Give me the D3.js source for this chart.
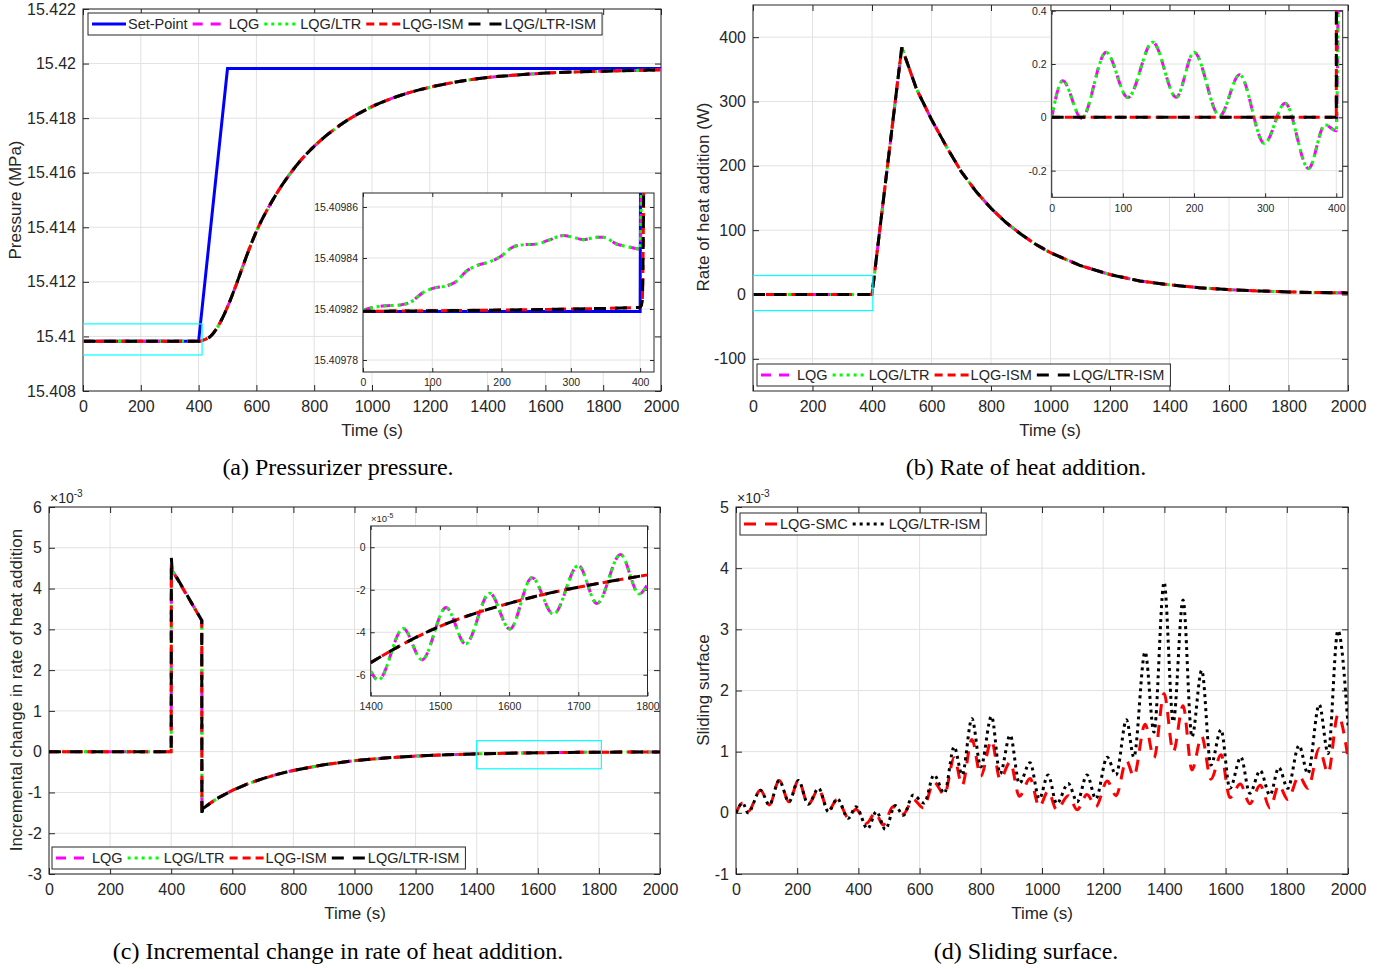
<!DOCTYPE html>
<html>
<head>
<meta charset="utf-8">
<script src="https://cdn.jsdelivr.net/npm/d3@7"></script>
<style>
  body { margin: 0; background: #fff; }
  text { font-family: "Liberation Sans", Arial, sans-serif; fill: #262626; }
  .cap { font-family: "Liberation Serif", "Times New Roman", serif; fill: #000; }
</style>
</head>
<body>
<script>
// ---------- data ----------
var timeTicks = [0, 200, 400, 600, 800, 1000, 1200, 1400, 1600, 1800, 2000];

// (a) pressurizer pressure, MPa
var pressTicks = [15.408, 15.41, 15.412, 15.414, 15.416, 15.418, 15.42, 15.422];
var pressLabels = ["15.408", "15.41", "15.412", "15.414", "15.416", "15.418", "15.42", "15.422"];
var setPointA = [[0, 15.409819], [400, 15.409819], [500, 15.419819], [2000, 15.419819]];
var responseA = [[0, 15.40982], [400, 15.409821], [420, 15.40988], [440, 15.40999], [460, 15.41025],
  [480, 15.41062], [500, 15.41108], [525, 15.41175], [550, 15.41248], [575, 15.4132], [600, 15.41385],
  [650, 15.41488], [700, 15.41572], [750, 15.41641], [800, 15.41697], [850, 15.41743], [900, 15.41782],
  [1000, 15.41842], [1100, 15.41884], [1200, 15.41913], [1300, 15.41934], [1400, 15.41949],
  [1500, 15.41958], [1600, 15.41965], [1800, 15.41972], [2000, 15.41977]];
var insetAxTicks = [0, 100, 200, 300, 400];
var insetAyTicks = [15.4098, 15.40982, 15.40984, 15.40986];
var insetAyLabels = ["15.40978", "15.40982", "15.40984", "15.40986"];
var ltrInsetA = [[0, 15.4098196], [20, 15.4098209], [35, 15.4098213], [54, 15.4098216], [68, 15.4098226],
  [87, 15.4098265], [102, 15.4098282], [121, 15.4098291], [133, 15.4098305], [150, 15.409835],
  [164, 15.409837], [184, 15.4098386], [198, 15.4098405], [217, 15.4098444], [232, 15.4098452],
  [251, 15.4098455], [268, 15.409847], [289, 15.4098488], [304, 15.4098481], [318, 15.4098472],
  [337, 15.4098481], [347, 15.4098481], [366, 15.4098455], [386, 15.4098442], [400, 15.4098435],
  [403, 15.40990]];
var ismInsetA = [[0, 15.4098191], [200, 15.4098196], [300, 15.40982], [400, 15.4098207],
  [403, 15.409823], [406, 15.40990]];
var zoomBoxA = [[0, 412], [15.40932, 15.41046]];

// (b) rate of heat addition, W
var heatTicks = [-100, 0, 100, 200, 300, 400];
var heatMain = [[0, 0], [400, 0], [500, 384], [550, 319], [600, 272], [650, 230], [700, 191], [750, 160],
  [800, 134], [850, 112], [900, 94], [950, 78], [1000, 65], [1100, 45], [1200, 31], [1300, 21],
  [1400, 15], [1500, 10.5], [1600, 7.5], [1700, 5.5], [1800, 4], [1900, 3], [2000, 2.5]];
var insetByTicks = [-0.2, 0, 0.2, 0.4];
var ltrInsetB = [[0, 0], [15.5, 0.137], [42, -0.004], [76.5, 0.244], [107, 0.074], [142, 0.282],
  [175, 0.075], [200, 0.244], [236, 0.005], [264, 0.16], [299, -0.098], [328, 0.053], [361, -0.192],
  [384, -0.028], [400, -0.05], [403, 0.6]];
var zoomBoxB = [[0, 403], [-25, 29.5]];

// (c) incremental change in rate of heat addition, x10^-3
var incTicks = [-3, -2, -1, 0, 1, 2, 3, 4, 5, 6];
var incMain = [[0, 0], [400, 0], [400.5, 4.48], [500, 3.22], [500.5, -1.4], [550, -1.15], [600, -0.95],
  [650, -0.79], [700, -0.66], [750, -0.55], [800, -0.46], [900, -0.32], [1000, -0.22], [1100, -0.155],
  [1200, -0.108], [1300, -0.076], [1400, -0.054], [1500, -0.037], [1600, -0.0265], [1700, -0.0185],
  [1800, -0.013], [1900, -0.009], [2000, -0.006]];
var incMainLtrIsm = [[0, 0], [400, 0], [400.5, 4.75], [403, 4.47], [500, 3.22], [500.5, -1.6], [503, -1.4],
  [550, -1.15], [600, -0.95], [650, -0.79], [700, -0.66], [750, -0.55], [800, -0.46], [900, -0.32],
  [1000, -0.22], [1100, -0.155], [1200, -0.108], [1300, -0.076], [1400, -0.054], [1500, -0.037],
  [1600, -0.0265], [1700, -0.0185], [1800, -0.013], [1900, -0.009], [2000, -0.006]];
// inset, x10^-5
var insetCxTicks = [1400, 1500, 1600, 1700, 1800];
var insetCyTicks = [-6, -4, -2, 0];
var ltrInsetC = [[1400, -5.83], [1411, -6.25], [1447, -3.82], [1474, -5.3], [1509, -2.84], [1537, -4.55],
  [1572, -2.16], [1601, -3.85], [1633, -1.43], [1664, -3.15], [1700, -0.86], [1727, -2.65],
  [1761, -0.34], [1788, -2.2], [1800, -1.75]];
var ismInsetC = [[1400, -5.43], [1450, -4.5], [1500, -3.72], [1550, -3.12], [1600, -2.64], [1650, -2.22],
  [1700, -1.88], [1750, -1.58], [1800, -1.3]];
var zoomBoxC = [[1400, 1808], [-0.42, 0.27]];

// (d) sliding surface, x10^-3
var slideTicks = [-1, 0, 1, 2, 3, 4, 5];
var smcD = [[0, 0], [22, 0.16], [39, 0.02], [80, 0.37], [109, 0.13], [141, 0.53], [173, 0.18], [204, 0.53],
  [236, 0.14], [270, 0.38], [302, 0.04], [331, 0.22], [367, -0.08], [392, 0.06], [427, -0.17], [455, 0.0],
  [481, -0.2], [513, 0.1], [547, -0.02], [579, 0.22], [612, 0.08], [647, 0.5], [681, 0.3], [713, 0.9],
  [739, 0.45], [771, 1.2], [800, 0.6], [835, 1.18], [863, 0.55], [896, 0.83], [926, 0.27], [961, 0.56],
  [991, 0.1], [1020, 0.35], [1048, 0.05], [1086, 0.28], [1115, 0.05], [1147, 0.3], [1176, 0.1],
  [1213, 0.52], [1242, 0.28], [1276, 0.85], [1300, 0.6], [1337, 1.45], [1366, 0.9], [1399, 1.95],
  [1429, 1.0], [1461, 1.75], [1490, 0.7], [1522, 1.25], [1552, 0.55], [1585, 0.95], [1614, 0.25],
  [1648, 0.47], [1679, 0.15], [1713, 0.45], [1745, 0.08], [1774, 0.45], [1803, 0.22], [1840, 0.6],
  [1869, 0.4], [1906, 1.05], [1935, 0.65], [1967, 1.6], [2000, 0.9]];
var ltrIsmD = [[0, 0], [22, 0.16], [39, 0.0], [80, 0.37], [109, 0.13], [141, 0.53], [173, 0.18], [204, 0.53],
  [236, 0.14], [270, 0.40], [302, 0.02], [331, 0.23], [367, -0.09], [392, 0.10], [430, -0.26], [459, 0.02],
  [488, -0.27], [520, 0.12], [547, -0.04], [579, 0.29], [615, 0.16], [647, 0.62], [681, 0.32], [713, 1.08],
  [739, 0.62], [771, 1.54], [800, 0.75], [835, 1.58], [863, 0.64], [896, 1.27], [926, 0.48], [961, 0.82],
  [991, 0.23], [1020, 0.62], [1048, 0.15], [1086, 0.48], [1115, 0.18], [1147, 0.62], [1176, 0.23],
  [1213, 0.91], [1242, 0.62], [1276, 1.52], [1300, 0.91], [1337, 2.63], [1366, 1.32], [1399, 3.77],
  [1429, 1.49], [1461, 3.48], [1490, 1.24], [1522, 2.33], [1552, 0.78], [1585, 1.36], [1614, 0.40],
  [1650, 0.91], [1679, 0.32], [1713, 0.69], [1745, 0.29], [1774, 0.74], [1803, 0.40], [1840, 1.10],
  [1869, 0.64], [1906, 1.77], [1935, 0.97], [1967, 2.98], [2000, 1.43]];

// ---------- styles ----------
var STY = {
  sp:    { label: "Set-Point",   color: "#0000ff", dash: null },
  lqg:   { label: "LQG",         color: "#ff00ff", dash: "10,8" },
  ltr:   { label: "LQG/LTR",     color: "#00ff00", dash: "3,4" },
  ism:   { label: "LQG-ISM",     color: "#ff0000", dash: "8,5" },
  ltrism:{ label: "LQG/LTR-ISM", color: "#000000", dash: "12,9" },
  smc:   { label: "LQG-SMC",     color: "#ff0000", dash: "12,9" },
  dot:   { label: "LQG/LTR-ISM", color: "#000000", dash: "3,4" }
};

var svg = d3.select("body").append("svg").attr("width", 1392).attr("height", 969);
var clipN = 0;

function makeAxes(o) {
  var x = d3.scaleLinear().domain(o.xd).range([o.l, o.r]);
  var y = d3.scaleLinear().domain(o.yd).range([o.b, o.t]);
  var g = svg.append("g");
  g.append("rect").attr("x", o.l).attr("y", o.t).attr("width", o.r - o.l).attr("height", o.b - o.t).attr("fill", "#fff");

  var grid = g.append("g").attr("stroke", "#e2e2e2").attr("stroke-width", 1);
  grid.selectAll(null).data(o.xt).join("line")
    .attr("x1", d => x(d)).attr("x2", d => x(d)).attr("y1", o.t).attr("y2", o.b);
  grid.selectAll(null).data(o.yt).join("line")
    .attr("y1", d => y(d)).attr("y2", d => y(d)).attr("x1", o.l).attr("x2", o.r);

  var fx = o.xf || (d => String(d));
  var fy = o.yf || (d => String(d));
  var list = [
    [d3.axisBottom(x).tickValues(o.xt).tickFormat(fx), "translate(0," + o.b + ")", o.padX],
    [d3.axisTop(x).tickValues(o.xt).tickFormat(""), "translate(0," + o.t + ")", 0],
    [d3.axisLeft(y).tickValues(o.yt).tickFormat(fy), "translate(" + o.l + ",0)", o.padY],
    [d3.axisRight(y).tickValues(o.yt).tickFormat(""), "translate(" + o.r + ",0)", 0]
  ];
  list.forEach(function (a) {
    g.append("g").attr("transform", a[1])
      .call(a[0].tickSize(-o.tick).tickPadding(a[2]))
      .call(function (s) {
        s.select(".domain").remove();
        s.selectAll("line").attr("stroke", "#262626");
        s.selectAll("text").attr("fill", "#262626").style("font-size", o.fs + "px");
      });
  });
  g.append("rect").attr("x", o.l).attr("y", o.t).attr("width", o.r - o.l).attr("height", o.b - o.t)
    .attr("fill", "none").attr("stroke", "#262626").attr("stroke-width", 1);

  var id = "clip" + (clipN++);
  svg.append("clipPath").attr("id", id).append("rect")
    .attr("x", o.l).attr("y", o.t).attr("width", o.r - o.l).attr("height", o.b - o.t);
  var plot = g.append("g").attr("clip-path", "url(#" + id + ")");
  return { x: x, y: y, g: g, plot: plot };
}

function drawLine(ax, data, st, curve, w) {
  var line = d3.line().x(d => ax.x(d[0])).y(d => ax.y(d[1])).curve(curve || d3.curveLinear);
  ax.plot.append("path").datum(data)
    .attr("d", line)
    .attr("fill", "none")
    .attr("stroke", st.color)
    .attr("stroke-width", w || 3)
    .attr("stroke-dasharray", st.dash);
}

function zoomBox(ax, box) {
  ax.plot.append("rect")
    .attr("x", ax.x(box[0][0])).attr("width", ax.x(box[0][1]) - ax.x(box[0][0]))
    .attr("y", ax.y(box[1][1])).attr("height", ax.y(box[1][0]) - ax.y(box[1][1]))
    .attr("fill", "none").attr("stroke", "#00ffff").attr("stroke-width", 1.2);
}

function legend(x0, y0, h, items) {
  var g = svg.append("g");
  var box = g.append("rect").attr("x", x0).attr("y", y0).attr("height", h)
    .attr("fill", "#fff").attr("stroke", "#262626").attr("stroke-width", 1);
  var cx = x0 + 4;
  items.forEach(function (st) {
    g.append("line").attr("x1", cx).attr("x2", cx + 34).attr("y1", y0 + h / 2).attr("y2", y0 + h / 2)
      .attr("stroke", st.color).attr("stroke-width", 3).attr("stroke-dasharray", st.dash);
    var t = g.append("text").attr("x", cx + 36).attr("y", y0 + h / 2 + 5)
      .style("font-size", "14.5px").attr("fill", "#000").text(st.label);
    cx = cx + 36 + t.node().getComputedTextLength() + 5;
  });
  box.attr("width", cx - x0 + 1);
}

function yLabel(x, y, txt) {
  svg.append("text").attr("transform", "translate(" + x + "," + y + ") rotate(-90)")
    .attr("text-anchor", "middle").attr("dominant-baseline", "central")
    .style("font-size", "17px").text(txt);
}
function xLabel(x, y, txt) {
  svg.append("text").attr("x", x).attr("y", y).attr("text-anchor", "middle")
    .style("font-size", "17px").text(txt);
}
function caption(x, y, txt) {
  svg.append("text").attr("class", "cap").attr("x", x).attr("y", y).attr("text-anchor", "middle")
    .style("font-size", "24px").text(txt);
}
function multiplier(x, y, exp, fs) {
  var t = svg.append("text").attr("x", x).attr("y", y).style("font-size", fs + "px");
  t.append("tspan").text("\u00d710");
  t.append("tspan").attr("dy", -fs * 0.45).style("font-size", (fs * 0.72) + "px").text(exp);
}

// ---------- (a) ----------
var A = makeAxes({ l: 83, r: 661, t: 9, b: 391, xd: [0, 2000], yd: [15.408, 15.422],
  xt: timeTicks, yt: pressTicks, yf: (d, i) => pressLabels[i], fs: 16, tick: 6, padX: 10, padY: 7 });
drawLine(A, setPointA, STY.sp);
drawLine(A, responseA, STY.lqg, d3.curveMonotoneX);
drawLine(A, responseA, STY.ltr, d3.curveMonotoneX);
drawLine(A, responseA, STY.ism, d3.curveMonotoneX);
drawLine(A, responseA, STY.ltrism, d3.curveMonotoneX);
zoomBox(A, zoomBoxA);
legend(88, 13, 22, [STY.sp, STY.lqg, STY.ltr, STY.ism, STY.ltrism]);
yLabel(15, 200, "Pressure (MPa)");
xLabel(372, 436, "Time (s)");
caption(338, 475, "(a) Pressurizer pressure.");

var Ai = makeAxes({ l: 363, r: 654, t: 193, b: 372, xd: [0, 420], yd: [15.4097953, 15.4098655],
  xt: insetAxTicks, yt: insetAyTicks, yf: (d, i) => insetAyLabels[i], fs: 10.5, tick: 4, padX: 7, padY: 5 });
drawLine(Ai, setPointA, STY.sp);
drawLine(Ai, ltrInsetA, STY.lqg, d3.curveMonotoneX);
drawLine(Ai, ltrInsetA, STY.ltr, d3.curveMonotoneX);
drawLine(Ai, ismInsetA, STY.ism, d3.curveMonotoneX);
drawLine(Ai, ismInsetA, STY.ltrism, d3.curveMonotoneX);

// ---------- (b) ----------
var B = makeAxes({ l: 753, r: 1348, t: 5, b: 391, xd: [0, 2000], yd: [-150, 450],
  xt: timeTicks, yt: heatTicks, fs: 16, tick: 6, padX: 10, padY: 7 });
drawLine(B, heatMain, STY.lqg);
drawLine(B, heatMain, STY.ltr);
drawLine(B, heatMain, STY.ism);
drawLine(B, heatMain, STY.ltrism);
zoomBox(B, zoomBoxB);
legend(757, 364, 22, [STY.lqg, STY.ltr, STY.ism, STY.ltrism]);
yLabel(703, 197, "Rate of heat addition (W)");
xLabel(1050, 436, "Time (s)");
caption(1026, 475, "(b) Rate of heat addition.");

var Bi = makeAxes({ l: 1051.7, r: 1342.7, t: 10.7, b: 197.3, xd: [0, 409], yd: [-0.3, 0.4],
  xt: insetAxTicks, yt: insetByTicks, fs: 10.5, tick: 4, padX: 7, padY: 5 });
drawLine(Bi, ltrInsetB, STY.lqg, d3.curveMonotoneX);
drawLine(Bi, ltrInsetB, STY.ltr, d3.curveMonotoneX);
drawLine(Bi, heatMain, STY.ism);
drawLine(Bi, heatMain, STY.ltrism);

// ---------- (c) ----------
var C = makeAxes({ l: 49, r: 660, t: 507, b: 874, xd: [0, 2000], yd: [-3, 6],
  xt: timeTicks, yt: incTicks, fs: 16, tick: 6, padX: 10, padY: 7 });
drawLine(C, incMain, STY.lqg);
drawLine(C, incMain, STY.ltr);
drawLine(C, incMain, STY.ism);
drawLine(C, incMainLtrIsm, STY.ltrism);
zoomBox(C, zoomBoxC);
legend(52, 847, 22, [STY.lqg, STY.ltr, STY.ism, STY.ltrism]);
multiplier(50, 503, "-3", 14);
yLabel(16, 690, "Incremental change in rate of heat addition");
xLabel(355, 919, "Time (s)");
caption(338, 959, "(c) Incremental change in rate of heat addition.");

var Ci = makeAxes({ l: 370.7, r: 647.5, t: 526, b: 696, xd: [1400, 1800], yd: [-7, 1],
  xt: insetCxTicks, yt: insetCyTicks, fs: 10.5, tick: 4, padX: 7, padY: 5 });
drawLine(Ci, ltrInsetC, STY.lqg, d3.curveMonotoneX);
drawLine(Ci, ltrInsetC, STY.ltr, d3.curveMonotoneX);
drawLine(Ci, ismInsetC, STY.ism, d3.curveMonotoneX);
drawLine(Ci, ismInsetC, STY.ltrism, d3.curveMonotoneX);
multiplier(371, 522, "-5", 9.5);

// ---------- (d) ----------
var D = makeAxes({ l: 736, r: 1348, t: 507, b: 874, xd: [0, 2000], yd: [-1, 5],
  xt: timeTicks, yt: slideTicks, fs: 16, tick: 6, padX: 10, padY: 7 });
drawLine(D, smcD, STY.smc, d3.curveMonotoneX);
drawLine(D, ltrIsmD, STY.dot, d3.curveMonotoneX);
legend(740, 513, 22, [STY.smc, STY.dot]);
multiplier(737, 503, "-3", 14);
yLabel(703, 690, "Sliding surface");
xLabel(1042, 919, "Time (s)");
caption(1026, 959, "(d) Sliding surface.");
</script>
</body>
</html>
